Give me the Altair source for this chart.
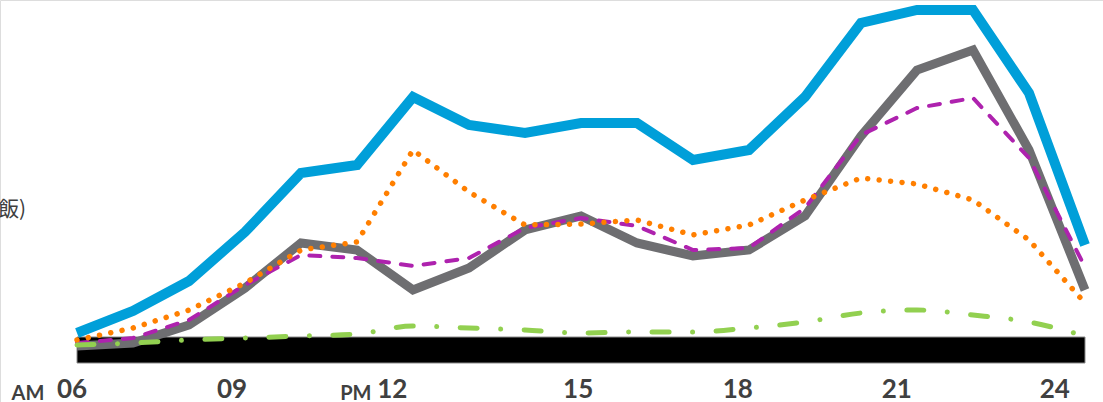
import altair as alt
import pandas as pd

hours = list(range(6, 25))

# values (arbitrary index units, 0 = bottom of the black band)
blue   = [30, 52, 82, 131, 190, 198, 266, 238, 230, 240, 240, 203, 213, 266, 340, 353, 353, 270, 118]
gray   = [17, 20, 38, 75, 120, 113, 73, 95, 133, 147, 120, 107, 113, 147, 227, 293, 313, 213, 73]
purple = [20, 25, 43, 78, 108, 105, 97, 105, 135, 145, 137, 113, 115, 155, 228, 255, 265, 205, 96]
orange = [23, 35, 53, 80, 113, 121, 213, 171, 138, 139, 143, 128, 138, 163, 185, 179, 163, 123, 60]
green  = [18, 20, 23, 25, 27, 29, 37, 35, 33, 30, 31, 31, 35, 41, 50, 53, 48, 41, 27]

tick_labels = ["06", "09", "12", "15", "18", "21", "24"]
tick_pos = [5.91, 8.77, 11.63, 14.95, 17.80, 20.64, 23.46]
ampm_labels = ["AM", "PM"]
ampm_pos = [5.125, 10.98]

series = {"blue": blue, "gray": gray, "purple": purple, "orange": orange, "green": green}
rows = []
for name, vals in series.items():
    for h, v in zip(hours, vals):
        rows.append({"hour": h, "value": v, "series": name})
df = pd.DataFrame(rows)

xs = alt.Scale(domain=[6, 24], range=[77, 1085], nice=False, zero=False)
ys = alt.Scale(domain=[0, 363], range=[363, 0], nice=False, zero=True)

band = alt.Chart(pd.DataFrame({"x": [6], "x2": [24], "y": [0], "y2": [26]})).mark_rect(
    color="#000000", stroke="#8a8a8a", strokeWidth=1
).encode(
    x=alt.X("x:Q", scale=xs, axis=None),
    x2="x2:Q",
    y=alt.Y("y:Q", scale=ys, axis=None),
    y2="y2:Q",
)

base = alt.Chart(df).encode(
    x=alt.X("hour:Q", scale=xs, axis=None),
    y=alt.Y("value:Q", scale=ys, axis=None),
)

styles = {
    "blue": dict(color="#009FD9", strokeWidth=10, strokeCap="butt", strokeJoin="miter"),
    "gray": dict(color="#6E6E71", strokeWidth=9, strokeCap="butt", strokeJoin="miter"),
    "purple": dict(color="#AE22AE", strokeWidth=4, strokeCap="round", strokeDash=[11, 12]),
    "orange": dict(color="#FF7F00", strokeWidth=5.5, strokeCap="round", strokeDash=[0.01, 11.5]),
    "green": dict(color="#92D050", strokeWidth=5, strokeCap="round", strokeDash=[17, 23.5, 0.01, 23.5], interpolate="monotone"),
}

layers = [band]
for name in ["blue", "gray", "purple", "orange", "green"]:
    layers.append(base.transform_filter(alt.datum.series == name).mark_line(**styles[name]))

ticks = alt.Chart(pd.DataFrame({"pos": tick_pos, "label": tick_labels})).mark_text(
    font="Lato", fontSize=26, fontWeight="bold", color="#404040", align="center", baseline="alphabetic"
).encode(x=alt.X("pos:Q", scale=xs, axis=None), y=alt.value(398), text="label:N")

ampm = alt.Chart(pd.DataFrame({"pos": ampm_pos, "label": ampm_labels})).mark_text(
    font="Lato", fontSize=20, fontWeight="bold", color="#404040", align="center", baseline="alphabetic"
).encode(x=alt.X("pos:Q", scale=xs, axis=None), y=alt.value(400), text="label:N")

side = alt.Chart(pd.DataFrame({"t": ["(ご飯)"]})).mark_text(
    font="Noto Sans CJK JP", fontSize=21, color="#404040", align="right", baseline="alphabetic"
).encode(x=alt.value(26), y=alt.value(216), text="t:N")

chart = alt.layer(*layers, ticks, ampm, side).properties(
    width=1103, height=402,
    autosize=alt.AutoSizeParams(type="none"),
    padding=0,
).configure_view(strokeWidth=0, stroke="transparent").configure(background="white")

chart.save("out.html", embed_options={"renderer": "svg", "actions": False})
